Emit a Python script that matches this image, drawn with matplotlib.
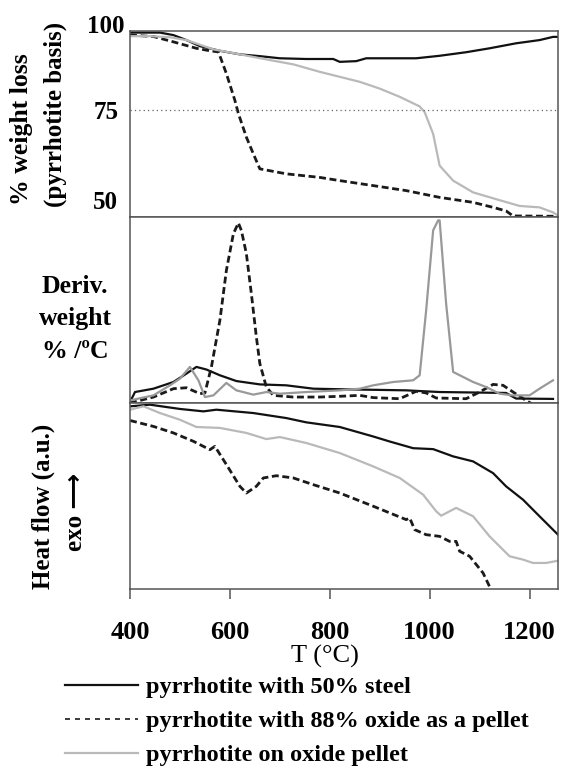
import numpy as np
import matplotlib.pyplot as plt
from matplotlib.lines import Line2D

plt.rcParams['font.family'] = ['Liberation Serif', 'DejaVu Serif']

# ---- weight loss (% , pyrrhotite basis) ----
steel_T = [400, 460, 487, 513, 540, 580, 620, 660, 700, 753, 807, 820, 853, 873,
           973, 1020, 1073, 1120, 1173, 1220, 1247, 1257]
steel_w = [96.8, 96.8, 96.1, 94.7, 93.0, 91.7, 90.7, 90.2, 89.6, 89.4, 89.4, 88.6,
           88.8, 89.6, 89.6, 90.3, 91.3, 92.4, 93.8, 94.7, 95.6, 95.6]

oxpel_T = [400, 447, 487, 533, 560, 577, 593, 610, 617, 633, 647, 660, 713, 780,
           820, 887, 953, 1020, 1087, 1127, 1153, 1167, 1257]
oxpel_w = [96.1, 95.7, 94.2, 92.4, 91.7, 91.4, 85.3, 77.8, 74.1, 67.5, 62.8, 58.6,
           57.2, 56.2, 55.3, 53.9, 52.5, 50.6, 49.2, 47.8, 46.8, 45.4, 45.3]

onpel_T = [400, 440, 480, 513, 567, 620, 680, 727, 780, 820, 860, 900, 940, 980,
           990, 1007, 1020, 1047, 1087, 1133, 1180, 1220, 1247, 1257]
onpel_w = [95.8, 95.8, 95.5, 94.7, 92.1, 90.7, 89.1, 87.9, 85.8, 84.4, 83.0, 81.1,
           78.8, 76.1, 74.5, 68.4, 59.5, 55.3, 52.0, 50.1, 48.2, 47.8, 46.4, 45.5]

# ---- derivative weight (arbitrary units) ----
steel_dT = [400, 410, 447, 487, 513, 533, 553, 580, 613, 660, 713, 767, 820, 953,
            1020, 1153, 1173, 1247]
steel_d = [0.5, 5.9, 7.7, 11.3, 15.8, 19.4, 18.0, 14.9, 11.8, 10.0, 9.5, 7.7, 7.4,
           6.8, 5.9, 5.4, 2.4, 2.2]

oxpel_dT = [400, 447, 487, 513, 540, 550, 563, 580, 593, 607, 617, 623, 633, 643,
            653, 660, 673, 687, 727, 780, 820, 860, 887, 940, 973, 993, 1013, 1073,
            1100, 1127, 1147, 1167, 1193, 1213, 1247]
oxpel_d = [0.0, 3.2, 7.7, 8.2, 5.0, 5.4, 19.4, 44.5, 71.3, 91.0, 96.8, 92.8, 80.3,
           58.8, 35.5, 21.2, 8.6, 4.1, 3.2, 3.2, 3.6, 4.1, 2.9, 2.3, 6.3, 5.4, 2.7,
           2.3, 5.9, 10.0, 9.5, 5.9, 1.4, -1.8, -2.1]

onpel_dT = [400, 447, 480, 500, 520, 537, 550, 567, 593, 613, 647, 673, 700, 753,
            820, 860, 887, 927, 967, 980, 993, 1007, 1017, 1020, 1033, 1047, 1087,
            1113, 1140, 1167, 1200, 1220, 1247]
onpel_d = [1.4, 4.1, 9.5, 13.1, 19.4, 12.2, 3.2, 4.1, 10.8, 6.8, 4.5, 5.9, 5.0, 5.9,
           6.8, 7.7, 9.5, 11.3, 12.2, 14.9, 49.8, 92.8, 98.2, 98.2, 53.4, 16.7, 11.3,
           8.6, 5.0, 4.1, 4.1, 7.7, 12.2]

# ---- heat flow (a.u.) ----
steel_hT = [400, 440, 500, 547, 573, 647, 713, 753, 820, 887, 920, 967, 1007, 1047,
            1087, 1127, 1153, 1187, 1220, 1257]
steel_h = [98.2, 99.1, 96.8, 95.5, 96.4, 94.6, 91.9, 89.6, 87.1, 82.0, 79.3, 75.7,
           75.2, 71.3, 68.6, 62.3, 55.2, 48.0, 39.1, 29.2]

oxpel_hT = [400, 447, 487, 527, 560, 570, 593, 620, 633, 653, 667, 693, 727, 767,
            820, 887, 953, 960, 970, 993, 1020, 1040, 1053, 1060, 1080, 1107, 1123,
            1135]
oxpel_h = [90.6, 87.4, 83.9, 79.4, 74.9, 76.7, 66.9, 55.2, 51.6, 55.2, 59.7, 60.9,
           59.7, 56.1, 51.6, 44.5, 37.3, 38.2, 31.9, 29.2, 28.3, 25.6, 25.6, 20.3,
           17.6, 8.6, -0.4, -6.0]

onpel_hT = [400, 427, 460, 500, 533, 580, 633, 673, 700, 753, 820, 887, 940, 987,
            1013, 1023, 1053, 1087, 1120, 1160, 1187, 1207, 1233, 1257]
onpel_h = [96.4, 98.2, 94.6, 91.0, 87.1, 86.6, 83.9, 80.6, 81.7, 78.5, 73.1, 65.9,
           59.7, 50.7, 41.8, 39.4, 43.6, 39.1, 28.3, 17.6, 15.8, 14.0, 14.0, 15.2]

labels = ['pyrrhotite with 50% steel',
          'pyrrhotite with 88% oxide as a pellet',
          'pyrrhotite on oxide pellet']
xticks = [400, 600, 800, 1000, 1200]

W, H = 561, 773
fig = plt.figure(figsize=(W / 100, H / 100), dpi=100)


def px(x, y):
    return x / W, 1 - y / H


def panel(top, bottom):
    l, b = px(130, bottom)
    _, t = px(130, top)
    return fig.add_axes([l, b, 558 / W - l, t - b])


ax1 = panel(31, 217)
ax2 = panel(217, 403)
ax3 = panel(403, 589)

blk = dict(color='#111111', lw=1.6)
dsh = dict(color='#1a1a1a', lw=2.0, linestyle=(0, (2.5, 1.3)))
gry = dict(color='#b9b9b9', lw=1.6)

ax1.plot(steel_T, steel_w, **blk)
ax1.plot(oxpel_T, oxpel_w, **dsh)
ax1.plot(onpel_T, onpel_w, **gry)
ax1.axhline(75, color='#666666', lw=0.9, linestyle=(0, (1, 2.5)))
ax1.set_ylim(45.1, 97.25)

ax2.plot(steel_dT, steel_d, **blk)
ax2.plot(oxpel_dT, oxpel_d, **dsh)
ax2.plot(onpel_dT, onpel_d, color='#999999', lw=1.6)
ax2.set_ylim(0, 100)

ax3.plot(steel_hT, steel_h, **blk)
ax3.plot(oxpel_hT, oxpel_h, **dsh)
ax3.plot(onpel_hT, onpel_h, **gry)
ax3.set_ylim(0, 100)

for ax in (ax1, ax2, ax3):
    ax.set_xlim(400, 1257)
    for s in ax.spines.values():
        s.set_color('#555555')
        s.set_linewidth(1.1)
    ax.tick_params(left=False, bottom=False, labelbottom=False)
    ax.set_yticks([])

ax1.set_yticks([50, 75])
ax1.tick_params(labelleft=True, pad=5, labelsize=18)
for t in ax1.get_yticklabels():
    t.set_fontweight('bold')
ax1.text(-0.012, 98.5, '100', transform=ax1.get_yaxis_transform(), ha='right',
         va='center', fontsize=18, fontweight='bold', clip_on=False)

ax3.set_xticks(xticks)
ax3.tick_params(bottom=True, labelbottom=True, direction='out', length=7,
                width=1.1, color='#555555', pad=16, labelsize=19)
for t in ax3.get_xticklabels():
    t.set_fontweight('bold')

# axis titles
fig.text(*px(22, 129), '% weight loss', rotation=90, ha='center', va='center',
         fontsize=18.5, fontweight='bold')
fig.text(*px(55, 114), '(pyrrhotite basis)', rotation=90, ha='center',
         va='center', fontsize=18, fontweight='bold')
fig.text(*px(75, 319), 'Deriv.\nweight\n% /\u00baC', ha='center', va='center',
         fontsize=18.5, fontweight='bold', linespacing=1.55)
fig.text(*px(43, 506), 'Heat flow (a.u.)', rotation=90, ha='center',
         va='center', fontsize=18, fontweight='bold')
fig.text(*px(75, 512), 'exo \u27f6', rotation=90, ha='center', va='center',
         fontsize=18, fontweight='bold', family=['Liberation Serif', 'DejaVu Sans'])
fig.text(*px(325, 656), 'T (\u00b0C)', ha='center', va='center', fontsize=19)

handles = [Line2D([], [], **blk),
           Line2D([], [], color='#1a1a1a', lw=1.2, linestyle=(0, (3, 3))),
           Line2D([], [], **gry)]
leg = fig.legend(handles, labels, loc='upper left', bbox_to_anchor=px(65, 676),
                 frameon=False, borderpad=0, borderaxespad=0, handlelength=3.0,
                 handletextpad=0.35, labelspacing=0.5,
                 prop={'family': 'Liberation Serif', 'weight': 'bold', 'size': 17.5})

fig.savefig('out.png', dpi=100)
